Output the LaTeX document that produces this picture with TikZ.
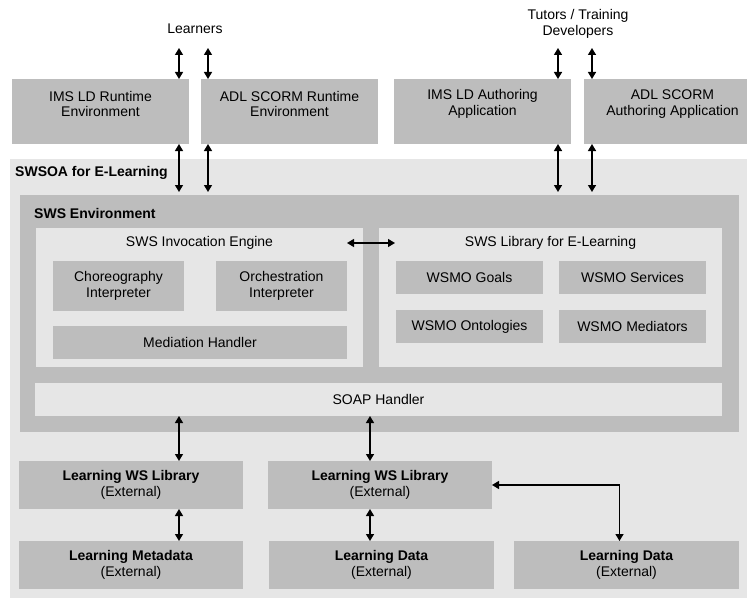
\documentclass[tikz,border=0pt]{standalone}
\usepackage{fontspec}
\setmainfont{Liberation Sans}
\usetikzlibrary{arrows.meta,calc}
\definecolor{boxdark}{HTML}{BDBDBD}
\definecolor{boxlight}{HTML}{E6E6E6}
\newcommand\diafs{\fontsize{14}{15.5}\selectfont}
\begin{document}
\begin{tikzpicture}[x=1pt,y=-1pt,
  font=\diafs,
  rect/.style={anchor=north west, inner sep=0pt, outer sep=0pt, align=center},
  dark/.style={rect, fill=boxdark},
  light/.style={rect, fill=boxlight},
  txt/.style={align=center, inner sep=0pt},
  bold/.style={font=\diafs\bfseries},
  dbl/.style={line width=1.4pt, {Triangle[length=7pt,width=8pt]}-{Triangle[length=7pt,width=8pt]}}]
\useasboundingbox (0,0) rectangle (747,602);

% outer containers
\node[light, minimum width=737, minimum height=439] (swsoa) at (10,159) {};
\node[txt, bold, anchor=west] (swsoalbl) at (15,173) {SWSOA for E-Learning};
\node[dark, minimum width=719, minimum height=237] (swsenv) at (20,195) {};
\node[txt, bold, anchor=west] (swsenvlbl) at (34,213) {SWS Environment};

% invocation engine
\node[light, minimum width=327, minimum height=139] (engine) at (36,228) {};
\node[txt] (enginelbl) at (199.5,243) {SWS Invocation Engine};
\node[dark, minimum width=131, minimum height=50] (choreo) at (53,261) {Choreography\\Interpreter};
\node[dark, minimum width=131, minimum height=50] (orch) at (216,261) {Orchestration\\Interpreter};
\node[dark, minimum width=294, minimum height=33] (medh) at (53,326) {Mediation Handler};

% library
\node[light, minimum width=343, minimum height=139] (library) at (379,228) {};
\node[txt] (librarylbl) at (550.5,243) {SWS Library for E-Learning};
\node[dark, minimum width=147, minimum height=33] (goals) at (396,261) {WSMO Goals};
\node[dark, minimum width=147, minimum height=33] (services) at (559,261) {WSMO Services};
\node[dark, minimum width=147, minimum height=33] (onto) at (396,310) {WSMO Ontologies};
\node[dark, minimum width=147, minimum height=33] (mediators) at (559,310) {WSMO Mediators};

% SOAP
\node[light, minimum width=687, minimum height=33] (soap) at (35,383) {SOAP Handler};

% top applications
\node[dark, minimum width=177, minimum height=65] (imsrt) at (12,79) {};
\node[txt] (imsrtlbl) at (100.5,104) {IMS LD Runtime\\Environment};
\node[dark, minimum width=177, minimum height=65] (adlrt) at (201,79) {};
\node[txt] (adlrtlbl) at (289.5,104) {ADL SCORM Runtime\\Environment};
\node[dark, minimum width=177, minimum height=65] (imsau) at (394,79) {};
\node[txt] (imsaulbl) at (482.5,104) {IMS LD Authoring\\Application};
\node[dark, minimum width=163, minimum height=65] (adlau) at (584,79) {};
\node[txt] (adlaulbl) at (672.5,104) {ADL SCORM\\Authoring Application};

\node[txt] (learners) at (195,29) {Learners};
\node[txt] (tutors) at (578,24) {Tutors / Training\\Developers};

% bottom external boxes
\node[dark, minimum width=224, minimum height=48] (lwsl) at (19,461) {\textbf{Learning WS Library}\\(External)};
\node[dark, minimum width=224, minimum height=48] (lwsm) at (268,461) {\textbf{Learning WS Library}\\(External)};
\node[dark, minimum width=224, minimum height=48] (lmeta) at (19,541) {\textbf{Learning Metadata}\\(External)};
\node[dark, minimum width=225, minimum height=48] (ldm) at (269,541) {\textbf{Learning Data}\\(External)};
\node[dark, minimum width=225, minimum height=48] (ldr) at (514,541) {\textbf{Learning Data}\\(External)};

% connector x positions
\coordinate (a1) at (179,48);
\coordinate (a2) at (208,48);
\coordinate (a3) at (558,48);
\coordinate (a4) at (592,48);
\coordinate (b1) at (179,0);
\coordinate (b2) at (370,0);

% top connectors
\foreach \c/\b in {a1/imsrt,a2/adlrt,a3/imsau,a4/adlau}{
  \draw[dbl] (\c) -- (\c |- \b.north);
  \draw[dbl, shorten >=3pt] (\c |- \b.south) -- (\c |- swsenv.north);
}

% engine <-> library
\draw[dbl] ($(engine.north east)+(-16,15)$) -- ($(library.north west)+(16,15)$);

% bottom connectors
\draw[dbl] (b1 |- soap.south) -- (b1 |- lwsl.north);
\draw[dbl] (b2 |- soap.south) -- (b2 |- lwsm.north);
\draw[dbl] (b1 |- lwsl.south) -- (b1 |- lmeta.north);
\draw[dbl] (b2 |- lwsm.south) -- (b2 |- ldm.north);
\draw[dbl] (lwsm.east) -| ([xshift=-7pt]ldr.north);
\end{tikzpicture}
\end{document}
